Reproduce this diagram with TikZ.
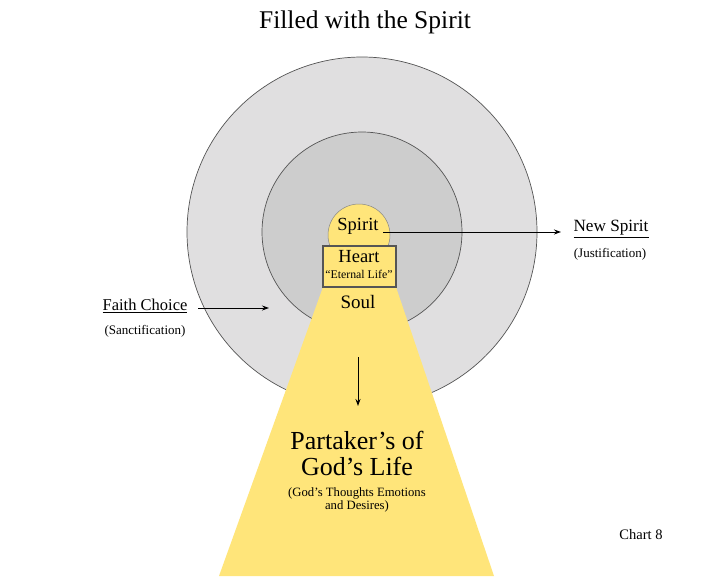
\documentclass[tikz,border=0pt]{standalone}
\usepackage{fontspec}
\setmainfont{Liberation Serif}
\usetikzlibrary{arrows.meta}
\definecolor{outergray}{HTML}{E0DFE0}
\definecolor{innergray}{HTML}{CDCDCD}
\definecolor{gold}{HTML}{FFE57A}
\definecolor{edge}{HTML}{555555}
\begin{document}
\begin{tikzpicture}[x=1pt,y=-1pt,
  lbl/.style={inner sep=0pt,align=center},
  arr/.style={-{Stealth[length=7pt,width=5pt]},line width=1pt,black}]
\useasboundingbox (0,0) rectangle (720,576);
\fill[white] (0,0) rectangle (720,576);
% circles
\draw[edge,line width=0.7pt,fill=outergray] (362,232) circle[radius=175];
\draw[edge,line width=0.7pt,fill=innergray] (362,232) circle[radius=100];
% trapezoid
\fill[gold] (323,287) -- (396,287) -- (494,576) -- (219,576) -- cycle;
% spirit circle
\draw[edge!70,line width=0.5pt,fill=gold] (359,235) circle[radius=31];
\node[draw=edge,line width=1.2pt,fill=gold,minimum width=73pt,minimum height=41pt,inner sep=0pt] (heart) at (359.5,266.5) {};
% texts
\node[lbl,font=\fontsize{25.5}{30}\selectfont] (title) at (365,22) {Filled with the Spirit};
\node[lbl,font=\fontsize{18.5}{21}\selectfont] (spirit) at (358,226) {Spirit};
\node[lbl,font=\fontsize{18.5}{20}\selectfont] (hearttxt) at (359,257) {Heart};
\node[lbl,font=\fontsize{11.8}{13}\selectfont] (eternal) at (359,274) {“Eternal Life”};
\node[lbl,font=\fontsize{19}{21}\selectfont] (soul) at (358,302) {Soul};
\node[lbl,font=\fontsize{16.5}{19}\selectfont] (faith) at (145,306) {\underline{Faith Choice}};
\node[lbl,font=\fontsize{13}{15}\selectfont] (sanct) at (145,331) {(Sanctification)};
\node[lbl,font=\fontsize{17.2}{19}\selectfont] (newspirit) at (611,229) {\underline{New Spirit}};
\node[lbl,font=\fontsize{13}{15}\selectfont] (just) at (610,254) {(Justification)};
\node[lbl,font=\fontsize{26}{26}\selectfont] (partaker) at (357,453) {Partaker’s of\\God’s Life};
\node[lbl,font=\fontsize{12.7}{13.5}\selectfont] (thoughts) at (357,500) {(God’s Thoughts Emotions\\and Desires)};
\node[lbl,font=\fontsize{14.5}{16}\selectfont] (chart) at (641,535) {Chart 8};
% arrows
\coordinate (sp0) at (383,232);
\coordinate (sp1) at (561,232);
\draw[arr] (sp0) -- (sp1);
\coordinate (fc0) at (198,308);
\coordinate (fc1) at (269,308);
\draw[arr] (fc0) -- (fc1);
\coordinate (dn0) at (358,357);
\coordinate (dn1) at (358,406);
\draw[arr] (dn0) -- (dn1);
\end{tikzpicture}
\end{document}
